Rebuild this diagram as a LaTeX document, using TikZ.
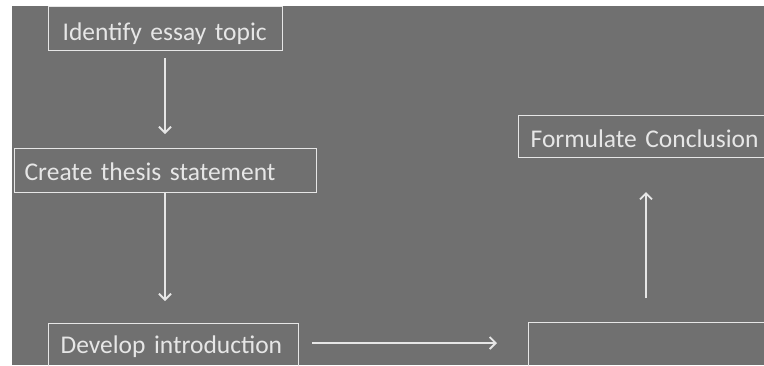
\documentclass[tikz,border=0pt]{standalone}
\usepackage{fontspec}
\setmainfont{Carlito}[WordSpace=0.8]
\usetikzlibrary{arrows.meta}
\definecolor{bg}{RGB}{112,112,112}
\definecolor{ln}{RGB}{230,230,230}
\tikzset{
  stepbox/.style={draw=ln, line width=1.3pt, inner ysep=0pt, anchor=north west, text=ln, align=left, font=\fontsize{25.5}{28}\selectfont, text depth=0pt},
  conn/.style={draw=ln, line width=1.4pt, -{Straight Barb[length=6pt,width=12pt,line width=1.8pt]}}
}
\begin{document}
\begin{tikzpicture}[x=1pt,y=-1pt]
\useasboundingbox (0,0) rectangle (764,365);
\fill[white] (0,0) rectangle (764,365);
\clip (0,0) rectangle (764,365);
\fill[bg] (12,6) rectangle (764,365);
\node[stepbox, inner xsep=14pt, text width=206pt, minimum height=44pt, text height=24pt] (a) at (48,6) {Identify essay topic};
\node[stepbox, inner xsep=10pt, text width=282pt, minimum height=44pt, text height=20pt] (b) at (14,148) {Create thesis statement};
\node[stepbox, inner xsep=12pt, text width=226pt, minimum height=50pt, text height=10pt] (c) at (48,323) {Develop introduction};
\node[stepbox, inner xsep=12pt, text width=236pt, minimum height=50pt] (d) at (528,322) {};
\node[stepbox, inner xsep=12pt, text width=236pt, minimum height=42pt, text height=22pt] (e) at (518,115) {Formulate Conclusion};
\coordinate (a1) at (165,58);
\coordinate (a2) at (165,134);
\coordinate (b1) at (165,192);
\coordinate (b2) at (165,301);
\coordinate (c1) at (312,343);
\coordinate (c2) at (497,343);
\coordinate (d1) at (646,298);
\coordinate (d2) at (646,192);
\draw[conn] (a1) -- (a2);
\draw[conn] (b1) -- (b2);
\draw[conn] (c1) -- (c2);
\draw[conn] (d1) -- (d2);
\end{tikzpicture}
\end{document}
